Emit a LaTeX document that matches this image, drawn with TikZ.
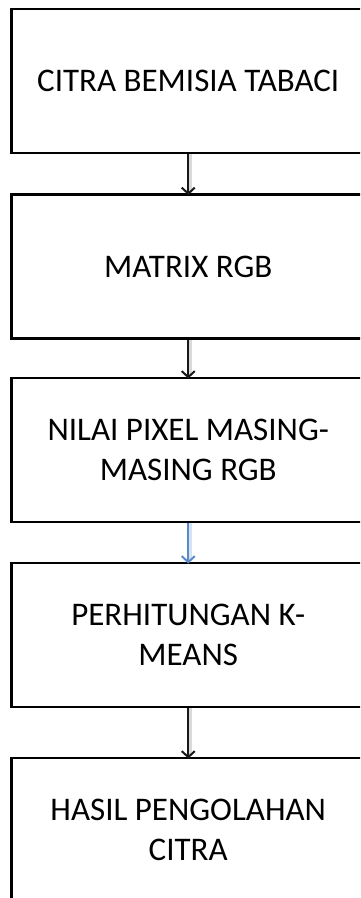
\documentclass[tikz,border=0pt]{standalone}
\usepackage{fontspec}
\setmainfont{Carlito}
\usetikzlibrary{arrows.meta,calc}
\definecolor{flowblue}{RGB}{91,138,200}
\definecolor{flowblueshade}{RGB}{214,227,242}
\begin{document}
\begin{tikzpicture}[x=1pt,y=-1pt,
  stepbox/.style={minimum width=353.5pt, minimum height=144pt,
    inner sep=0pt, outer sep=0pt, align=center, font=\fontsize{33}{40}\selectfont},
  frame/.style={draw=black, line width=2.6pt, line join=miter},
  flowarrow/.style={line width=2.4pt, -{Straight Barb[length=6pt,width=13pt,line width=2pt]},
    shorten >=-0.5pt, shorten <=1pt},
  shade/.style={line width=2.6pt, shorten <=1pt, shorten >=2pt}]
\useasboundingbox (0,0) rectangle (360,898);
\clip (0,0) rectangle (360,898);
\fill[white] (0,0) rectangle (360,898);

\node[stepbox] (b1) at (188.25,81)    {CITRA BEMISIA TABACI};
\node[stepbox] (b2) at (188.25,266.5) {MATRIX RGB};
\node[stepbox] (b3) at (188.25,450)   {NILAI PIXEL MASING-\\MASING RGB};
\node[stepbox] (b4) at (188.25,635)   {PERHITUNGAN K-\\MEANS};
\node[stepbox] (b5) at (188.25,830)   {HASIL PENGOLAHAN\\CITRA};

% box frames, running on past the right edge of the page
\foreach \b in {b1,b2,b3,b4,b5}
  \draw[frame] ($(\b.north east)+(40,0)$) -- (\b.north west) -- (\b.south west) -- ($(\b.south east)+(40,0)$);

% soft shading to the right of each connector
\draw[shade, black!15, transform canvas={xshift=2.5pt}] (b1.south) -- (b2.north);
\draw[shade, black!15, transform canvas={xshift=2.5pt}] (b2.south) -- (b3.north);
\draw[shade, flowblueshade, transform canvas={xshift=2.5pt}] (b3.south) -- (b4.north);
\draw[shade, black!15, transform canvas={xshift=2.5pt}] (b4.south) -- (b5.north);

\draw[flowarrow, black!90] (b1.south) -- (b2.north);
\draw[flowarrow, black!90] (b2.south) -- (b3.north);
\draw[flowarrow, flowblue] (b3.south) -- (b4.north);
\draw[flowarrow, black!90] (b4.south) -- (b5.north);
\end{tikzpicture}
\end{document}
